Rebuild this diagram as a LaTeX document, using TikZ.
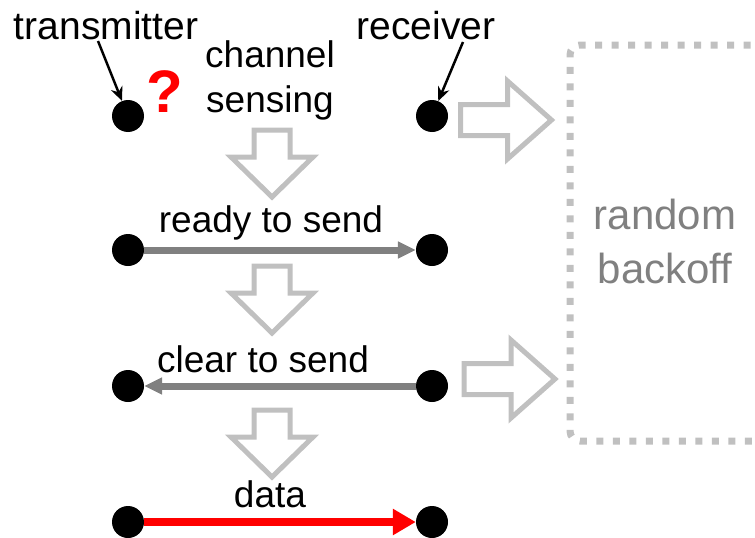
\documentclass[tikz,border=0pt]{standalone}
\usepackage{fontspec}
\setmainfont{Liberation Sans}
\usetikzlibrary{positioning,arrows.meta}
\definecolor{boxgray}{HTML}{C0C0C0}
\definecolor{msggray}{HTML}{808080}

\tikzset{
	downarrow/.pic={\draw[boxgray, line width=5pt, fill=white] (-18,0) -- (18,0) -- (18,27) -- (41,27) -- (0,67) -- (-41,27) -- (-18,27) -- cycle;},
	rightarrow/.pic={\draw[boxgray, line width=5pt, fill=white] (0,-15.5) -- (47,-15.5) -- (47,-39) -- (91,0) -- (47,39) -- (47,15.5) -- (0,15.5) -- cycle;}
}

\begin{document}
\begin{tikzpicture}[x=1pt, y=-1pt, font=\fontsize{37}{44}\selectfont]
			\tikzstyle{station} = [circle, fill=black, inner sep=0pt, minimum size=32pt]
			\tikzstyle{msg} = [msggray, line width=7pt, -{Triangle[length=18pt,width=16pt]}]
			\tikzstyle{pointer} = [black, line width=2.5pt, -{Stealth[length=14pt,width=12pt]}]
			\tikzstyle{role} = [anchor=base, font=\fontsize{39}{44}\selectfont]
			\useasboundingbox (0,0) rectangle (755,538);
			
			% backoff box, open to the right
			\draw[boxgray, line width=7pt, dash pattern=on 7pt off 9.5pt, rounded corners=10pt] (800,45) -- (570,45) -- (570,441) -- (800,441);
			\node[anchor=base, text=msggray, font=\fontsize{42}{54}\selectfont](rnd) at (665,229){random};
			\node[anchor=base, text=msggray, font=\fontsize{42}{54}\selectfont](bko) at (665,283){backoff};
			
			\node[station](tx1) at (128,116){};
			\node[station](rx1) at (432,116){};
			\node[station](tx2) at (128,250){};
			\node[station](rx2) at (432,250){};
			\node[station](tx3) at (128,386){};
			\node[station](rx3) at (432,386){};
			\node[station](tx4) at (128,522){};
			\node[station](rx4) at (432,522){};
			
			\node[role](tlabel) at (106,39){transmitter};
			\node[role](rlabel) at (426,39){receiver};
			\coordinate (tpoint) at (98,41);
			\coordinate (rpoint) at (463,42);
			\draw[pointer](tpoint) -- (tx1);
			\draw[pointer](rpoint) -- (rx1);
			
			\node[anchor=base, text=red, font=\fontsize{60}{60}\selectfont\bfseries](query) at (165,112){?};
			\node[anchor=base](chan) at (270,67){channel};
			\node[anchor=base](sens) at (270,112){sensing};
			
			\draw[msg](tx2) -- (rx2);
			\draw[msg](rx3) -- (tx3);
			\draw[msg, red, line width=8pt, -{Triangle[length=23pt,width=25pt]}](tx4) -- (rx4);
			\node[anchor=base](rts) at (271,232){ready to send};
			\node[anchor=base](cts) at (263,372){clear to send};
			\node[anchor=base](dat) at (270,507){data};
			
			\pic at (272,130){downarrow};
			\pic at (272,266){downarrow};
			\pic at (272,410){downarrow};
			\pic at (460.5,120){rightarrow};
			\pic at (464,379){rightarrow};
		\end{tikzpicture}
\end{document}
